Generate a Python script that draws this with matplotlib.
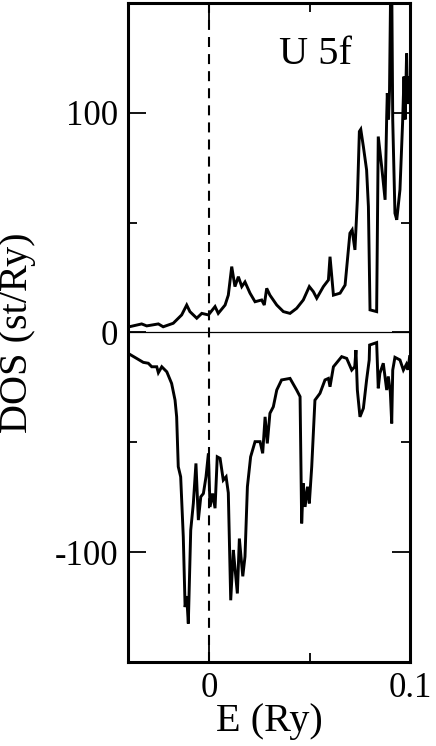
#!/usr/bin/env python3
# -*- coding: utf-8 -*-

import matplotlib
matplotlib.use("Agg")
import matplotlib.pyplot as plt
from matplotlib.ticker import MultipleLocator

plt.rcParams['font.family'] = ['Liberation Serif', 'DejaVu Serif']
tick_fontsize = 25
label_fontsize = 29

# U 5f DOS, spin up (positive)
e_up = [-0.0397, -0.0335, -0.031, -0.0252, -0.0228, -0.0178, -0.0136, -0.0111, -0.0095,
        -0.0061, -0.0036, -0.0003, 0.003, 0.0046, 0.008, 0.0096, 0.0113, 0.0129, 0.0146,
        0.0163, 0.0179, 0.0204, 0.0229, 0.0262, 0.0275, 0.0287, 0.0303, 0.0337, 0.037,
        0.0403, 0.0436, 0.0469, 0.0499, 0.0519, 0.0536, 0.0569, 0.0594, 0.0602, 0.0619,
        0.0652, 0.0677, 0.0701, 0.0712, 0.0726, 0.0738, 0.0748, 0.0755, 0.0768, 0.0784,
        0.0793, 0.0801, 0.0834, 0.0842, 0.0859, 0.0876, 0.0884, 0.0887, 0.0893, 0.0898,
        0.0904, 0.0909, 0.0914, 0.0925, 0.0934, 0.095, 0.0963, 0.097, 0.0976, 0.0983,
        0.0988, 0.0996]
dos_up = [2.6, 3.9, 3.0, 3.9, 2.6, 4.2, 8.0, 12.5, 9.5,
          6.5, 8.7, 8.0, 11.8, 8.7, 12.5, 17.0, 30.0, 20.9, 25.4,
          20.9, 23.0, 17.9, 14.0, 14.8, 12.5, 20.1, 17.0, 12.5, 9.5,
          8.7, 11.0, 14.8, 20.9, 18.6, 15.6, 20.9, 23.9, 34.5, 17.0,
          17.9, 21.6, 45.2, 46.7, 37.6, 60.4, 91.5, 92.5, 84.6, 74.0,
          57.3, 10.3, 9.5, 89.2, 75.5, 60.4, 98.3, 109.0, 97.0, 110.0,
          160.0, 160.0, 96.8, 54.3, 51.3, 65.0, 95.3, 116.5, 97.0, 127.0,
          104.0, 116.0]

# U 5f DOS, spin down (negative)
e_dn = [-0.0397, -0.036, -0.0327, -0.0302, -0.0285, -0.026, -0.0252, -0.0235, -0.021,
        -0.0186, -0.0169, -0.0161, -0.0153, -0.0141, -0.0128, -0.0119, -0.0111, -0.0103,
        -0.0091, -0.0078, -0.0065, -0.0053, -0.0041, -0.0028, -0.0015, -0.0003, 0.0005,
        0.0018, 0.003, 0.0041, 0.0055, 0.0071, 0.0085, 0.0096, 0.0108, 0.0121, 0.013,
        0.0141, 0.0151, 0.0168, 0.0179, 0.0191, 0.0207, 0.0229, 0.0254, 0.0267, 0.0279,
        0.029, 0.0303, 0.032, 0.0337, 0.0361, 0.0403, 0.0436, 0.0453, 0.0461, 0.0469,
        0.0478, 0.049, 0.0499, 0.0511, 0.0527, 0.0552, 0.0577, 0.0594, 0.0602, 0.0619,
        0.066, 0.0685, 0.071, 0.0725, 0.0731, 0.0738, 0.0751, 0.0768, 0.0784, 0.0797,
        0.0799, 0.0834, 0.0842, 0.085, 0.0867, 0.0884, 0.0892, 0.0902, 0.0909, 0.0914,
        0.0925, 0.095, 0.0967, 0.0982, 0.099, 0.0998]
dos_dn = [-9.8, -11.8, -13.6, -14.0, -15.6, -15.6, -18.3, -15.6, -17.9,
          -23.2, -30.8, -38.4, -61.1, -65.7, -93.0, -125.0, -120.0, -132.5,
          -90.0, -77.8, -59.6, -85.4, -74.8, -73.3, -65.7, -55.0, -79.4,
          -73.3, -80.0, -56.6, -57.3, -67.2, -65.7, -73.0, -121.9, -99.0, -108.0,
          -118.8, -93.8, -111.0, -102.0, -70.2, -56.6, -49.7, -49.7, -55.0, -38.4,
          -50.5, -36.8, -33.8, -26.2, -21.6, -20.9, -26.2, -29.2, -86.9, -68.7,
          -79.4, -70.2, -77.8, -61.1, -30.8, -27.7, -21.6, -20.9, -24.7, -15.6,
          -11.0, -11.8, -17.1, -15.6, -8.0, -26.2, -38.4, -34.5, -21.6, -12.5,
          -5.7, -4.6, -25.4, -18.6, -14.0, -26.2, -20.0, -27.0, -41.4, -17.1,
          -11.3, -12.5, -17.1, -14.5, -17.0, -11.0]

fig = plt.figure(figsize=(4.36, 7.46), dpi=100)
ax = fig.add_axes([0.2936, 0.1126, 0.6468, 0.8834])

ax.plot(e_up, dos_up, color='black', lw=2.1, solid_joinstyle='miter')
ax.plot(e_dn, dos_dn, color='black', lw=2.1, solid_joinstyle='miter')
ax.axhline(0, color='black', lw=0.9)
ax.axvline(0, color='black', lw=1.5, ls=(0, (4.8, 3.4)))

ax.set_xlim(-0.0403, 0.1)
ax.set_ylim(-150, 150)
ax.xaxis.set_minor_locator(MultipleLocator(0.05))
ax.yaxis.set_minor_locator(MultipleLocator(50))
ax.set_xticks([0, 0.1])
ax.set_xticklabels(['0', '0.1'])
ax.set_yticks([-100, 0, 100])
ax.set_yticklabels(['-100', '0', '100'])
ax.tick_params(which='both', direction='in', top=True, right=True, width=1.3,
               labelsize=tick_fontsize)
ax.tick_params(which='major', length=13, pad=7)
ax.tick_params(which='minor', length=6.5)
for sp in ax.spines.values():
    sp.set_linewidth(2.2)

ax.set_xlabel('E (Ry)', fontsize=label_fontsize)
ax.set_ylabel('DOS (st/Ry)', fontsize=label_fontsize)
ax.xaxis.set_label_coords(0.5, -0.062)
ax.yaxis.set_label_coords(-0.325, 0.5)
ax.text(0.0348, 122, 'U 5f', ha='left', va='baseline', fontsize=label_fontsize)

plt.savefig('out.png', dpi=100)
